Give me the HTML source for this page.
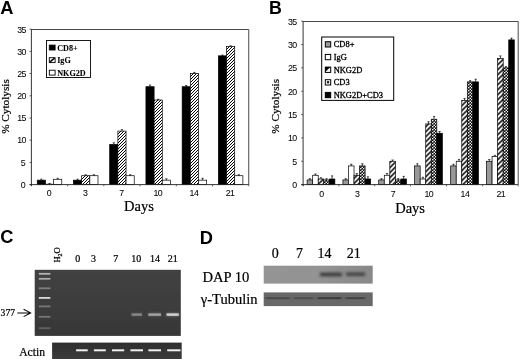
<!DOCTYPE html>
<html><head><meta charset="utf-8"><title>Figure</title>
<style>html,body{margin:0;padding:0;background:#fff}svg{display:block}text{fill:#000}.sf text{stroke:#000;stroke-width:.25px}</style>
</head><body>
<svg width="520" height="359" viewBox="0 0 520 359">
<defs>
<pattern id="hA" width="3" height="3" patternUnits="userSpaceOnUse"><rect width="3" height="3" fill="#fff"/><path d="M1 -1L-1 1M4 -1L-1 4M4 2L2 4" stroke="#000" stroke-width="1.0"/></pattern>
<pattern id="hN" width="5" height="5" patternUnits="userSpaceOnUse" patternTransform="translate(0.5 2)"><rect width="5" height="5" fill="#fff"/><path d="M-1.25 1.25L1.25 -1.25M0 5L5 0M3.75 6.25L6.25 3.75" stroke="#000" stroke-width="1.55"/></pattern>
<pattern id="hC" width="3" height="3" patternUnits="userSpaceOnUse"><rect width="3" height="3" fill="#111"/><circle cx="0.75" cy="0.75" r="0.8" fill="#fff"/><circle cx="2.25" cy="2.25" r="0.8" fill="#fff"/></pattern>
<filter id="b1" x="-5%" y="-5%" width="110%" height="110%"><feGaussianBlur stdDeviation="0.45"/></filter>
<filter id="b2" x="-20%" y="-50%" width="140%" height="200%"><feGaussianBlur stdDeviation="0.7"/></filter>
<filter id="b3" x="-20%" y="-80%" width="140%" height="260%"><feGaussianBlur stdDeviation="1.6 1.1"/></filter>
<linearGradient id="gG" x1="0" y1="0" x2="0" y2="1"><stop offset="0" stop-color="#424242"/><stop offset="1" stop-color="#373737"/></linearGradient>
<linearGradient id="gA" x1="0" y1="0" x2="0" y2="1"><stop offset="0" stop-color="#2e2e2e"/><stop offset="1" stop-color="#3c3c3c"/></linearGradient>
<linearGradient id="gD" x1="0" y1="0" x2="1" y2="0"><stop offset="0" stop-color="#949494"/><stop offset="0.5" stop-color="#939393"/><stop offset="1" stop-color="#888888"/></linearGradient>
<filter id="b4" x="-20%" y="-100%" width="140%" height="300%"><feGaussianBlur stdDeviation="1.3 0.7"/></filter>
</defs>
<rect width="520" height="359" fill="#fff"/>
<g filter="url(#b1)">
<text x="0.3" y="13.9" font-family="Liberation Sans, sans-serif" font-size="18.3" font-weight="bold">A</text>
<text x="269.1" y="13.7" font-family="Liberation Sans, sans-serif" font-size="17.8" font-weight="bold">B</text>
<text x="0.3" y="243.4" font-family="Liberation Sans, sans-serif" font-size="18.3" font-weight="bold">C</text>
<text x="199.8" y="243.7" font-family="Liberation Sans, sans-serif" font-size="18.3" font-weight="bold">D</text>
<path d="M31.4 29.5H248.75V184.6" fill="none" stroke="#4a4a4a" stroke-width="1"/>
<rect x="37.26" y="180.16" width="8.17" height="4.44" fill="#000" stroke="#000" stroke-width="0.7"/>
<path d="M41.34 180.16V179.19M40.24 179.19h2.2" stroke="#000" stroke-width="0.7" fill="none"/>
<rect x="45.43" y="184.16" width="8.17" height="0.44" fill="url(#hA)" stroke="#000" stroke-width="0.7"/>
<path d="M49.51 184.16V183.41M48.41 183.41h2.2" stroke="#000" stroke-width="0.7" fill="none"/>
<rect x="53.60" y="179.27" width="8.17" height="5.33" fill="#fff" stroke="#000" stroke-width="0.7"/>
<path d="M57.68 179.27V178.31M56.58 178.31h2.2" stroke="#000" stroke-width="0.7" fill="none"/>
<rect x="73.48" y="180.16" width="8.17" height="4.44" fill="#000" stroke="#000" stroke-width="0.7"/>
<path d="M77.56 180.16V179.19M76.47 179.19h2.2" stroke="#000" stroke-width="0.7" fill="none"/>
<rect x="81.65" y="175.72" width="8.17" height="8.88" fill="url(#hA)" stroke="#000" stroke-width="0.7"/>
<path d="M85.73 175.72V174.75M84.64 174.75h2.2" stroke="#000" stroke-width="0.7" fill="none"/>
<rect x="89.82" y="175.72" width="8.17" height="8.88" fill="#fff" stroke="#000" stroke-width="0.7"/>
<path d="M93.91 175.72V174.75M92.81 174.75h2.2" stroke="#000" stroke-width="0.7" fill="none"/>
<rect x="109.70" y="144.42" width="8.17" height="40.18" fill="#000" stroke="#000" stroke-width="0.7"/>
<path d="M113.79 144.42V142.79M112.69 142.79h2.2" stroke="#000" stroke-width="0.7" fill="none"/>
<rect x="117.88" y="131.10" width="8.17" height="53.50" fill="url(#hA)" stroke="#000" stroke-width="0.7"/>
<path d="M121.96 131.10V129.69M120.86 129.69h2.2" stroke="#000" stroke-width="0.7" fill="none"/>
<rect x="126.05" y="175.72" width="8.17" height="8.88" fill="#fff" stroke="#000" stroke-width="0.7"/>
<path d="M130.13 175.72V174.75M129.03 174.75h2.2" stroke="#000" stroke-width="0.7" fill="none"/>
<rect x="145.93" y="86.70" width="8.17" height="97.90" fill="#000" stroke="#000" stroke-width="0.7"/>
<path d="M150.02 86.70V85.07M148.92 85.07h2.2" stroke="#000" stroke-width="0.7" fill="none"/>
<rect x="154.10" y="100.02" width="8.17" height="84.58" fill="url(#hA)" stroke="#000" stroke-width="0.7"/>
<path d="M158.19 100.02V99.27M157.09 99.27h2.2" stroke="#000" stroke-width="0.7" fill="none"/>
<rect x="162.27" y="180.16" width="8.17" height="4.44" fill="#fff" stroke="#000" stroke-width="0.7"/>
<path d="M166.36 180.16V178.75M165.26 178.75h2.2" stroke="#000" stroke-width="0.7" fill="none"/>
<rect x="182.15" y="86.70" width="8.17" height="97.90" fill="#000" stroke="#000" stroke-width="0.7"/>
<path d="M186.23 86.70V85.51M185.13 85.51h2.2" stroke="#000" stroke-width="0.7" fill="none"/>
<rect x="190.31" y="73.38" width="8.17" height="111.22" fill="url(#hA)" stroke="#000" stroke-width="0.7"/>
<path d="M194.40 73.38V72.41M193.30 72.41h2.2" stroke="#000" stroke-width="0.7" fill="none"/>
<rect x="198.49" y="180.16" width="8.17" height="4.44" fill="#fff" stroke="#000" stroke-width="0.7"/>
<path d="M202.57 180.16V178.31M201.47 178.31h2.2" stroke="#000" stroke-width="0.7" fill="none"/>
<rect x="218.37" y="55.84" width="8.17" height="128.76" fill="#000" stroke="#000" stroke-width="0.7"/>
<path d="M222.46 55.84V55.10M221.36 55.10h2.2" stroke="#000" stroke-width="0.7" fill="none"/>
<rect x="226.54" y="46.52" width="8.17" height="138.08" fill="url(#hA)" stroke="#000" stroke-width="0.7"/>
<path d="M230.62 46.52V45.77M229.53 45.77h2.2" stroke="#000" stroke-width="0.7" fill="none"/>
<rect x="234.71" y="175.72" width="8.17" height="8.88" fill="#fff" stroke="#000" stroke-width="0.7"/>
<path d="M238.80 175.72V174.75M237.70 174.75h2.2" stroke="#000" stroke-width="0.7" fill="none"/>
<path d="M31.4 29.2V185.79999999999998M29.599999999999998 184.6H248.75" fill="none" stroke="#222" stroke-width="0.9"/>
<path d="M29.5 184.60H31.4" stroke="#222" stroke-width="0.7"/>
<text x="25.1" y="187.60" text-anchor="end" font-family="Liberation Sans, sans-serif" stroke="#000" stroke-width="0.05" font-size="8.8" letter-spacing="-0.6">0</text>
<path d="M29.5 162.40H31.4" stroke="#222" stroke-width="0.7"/>
<text x="25.1" y="165.54" text-anchor="end" font-family="Liberation Sans, sans-serif" stroke="#000" stroke-width="0.05" font-size="8.8" letter-spacing="-0.6">5</text>
<path d="M29.5 140.20H31.4" stroke="#222" stroke-width="0.7"/>
<text x="25.8" y="143.49" text-anchor="end" font-family="Liberation Sans, sans-serif" stroke="#000" stroke-width="0.05" font-size="8.8" letter-spacing="-0.6">10</text>
<path d="M29.5 118.00H31.4" stroke="#222" stroke-width="0.7"/>
<text x="25.8" y="121.43" text-anchor="end" font-family="Liberation Sans, sans-serif" stroke="#000" stroke-width="0.05" font-size="8.8" letter-spacing="-0.6">15</text>
<path d="M29.5 95.80H31.4" stroke="#222" stroke-width="0.7"/>
<text x="25.8" y="99.37" text-anchor="end" font-family="Liberation Sans, sans-serif" stroke="#000" stroke-width="0.05" font-size="8.8" letter-spacing="-0.6">20</text>
<path d="M29.5 73.60H31.4" stroke="#222" stroke-width="0.7"/>
<text x="25.8" y="77.31" text-anchor="end" font-family="Liberation Sans, sans-serif" stroke="#000" stroke-width="0.05" font-size="8.8" letter-spacing="-0.6">25</text>
<path d="M29.5 51.40H31.4" stroke="#222" stroke-width="0.7"/>
<text x="25.8" y="55.26" text-anchor="end" font-family="Liberation Sans, sans-serif" stroke="#000" stroke-width="0.05" font-size="8.8" letter-spacing="-0.6">30</text>
<path d="M29.5 29.20H31.4" stroke="#222" stroke-width="0.7"/>
<text x="25.8" y="33.20" text-anchor="end" font-family="Liberation Sans, sans-serif" stroke="#000" stroke-width="0.05" font-size="8.8" letter-spacing="-0.6">35</text>
<path d="M31.4 184.6v1.7" stroke="#222" stroke-width="0.7"/>
<path d="M67.62 184.6v1.7" stroke="#222" stroke-width="0.7"/>
<path d="M103.85 184.6v1.7" stroke="#222" stroke-width="0.7"/>
<path d="M140.07 184.6v1.7" stroke="#222" stroke-width="0.7"/>
<path d="M176.3 184.6v1.7" stroke="#222" stroke-width="0.7"/>
<path d="M212.5 184.6v1.7" stroke="#222" stroke-width="0.7"/>
<path d="M248.75 184.6v1.7" stroke="#222" stroke-width="0.7"/>
<text x="49.0" y="195.9" text-anchor="middle" font-family="Liberation Sans, sans-serif" stroke="#000" stroke-width="0.05" font-size="8.8" letter-spacing="-0.6">0</text>
<text x="85.2" y="195.9" text-anchor="middle" font-family="Liberation Sans, sans-serif" stroke="#000" stroke-width="0.05" font-size="8.8" letter-spacing="-0.6">3</text>
<text x="121.5" y="195.9" text-anchor="middle" font-family="Liberation Sans, sans-serif" stroke="#000" stroke-width="0.05" font-size="8.8" letter-spacing="-0.6">7</text>
<text x="157.7" y="195.9" text-anchor="middle" font-family="Liberation Sans, sans-serif" stroke="#000" stroke-width="0.05" font-size="8.8" letter-spacing="-0.6">10</text>
<text x="193.9" y="195.9" text-anchor="middle" font-family="Liberation Sans, sans-serif" stroke="#000" stroke-width="0.05" font-size="8.8" letter-spacing="-0.6">14</text>
<text x="230.1" y="195.9" text-anchor="middle" font-family="Liberation Sans, sans-serif" stroke="#000" stroke-width="0.05" font-size="8.8" letter-spacing="-0.6">21</text>
<path d="M303.1 21.5H518.2V184.6" fill="none" stroke="#4a4a4a" stroke-width="1"/>
<rect x="307.12" y="179.93" width="5.55" height="4.67" fill="#999" stroke="#000" stroke-width="0.7"/>
<path d="M309.90 179.93V178.70M308.80 178.70h2.2" stroke="#000" stroke-width="0.7" fill="none"/>
<rect x="312.68" y="175.26" width="5.55" height="9.34" fill="#fff" stroke="#000" stroke-width="0.7"/>
<path d="M315.45 175.26V174.03M314.35 174.03h2.2" stroke="#000" stroke-width="0.7" fill="none"/>
<rect x="318.23" y="179.00" width="5.55" height="5.60" fill="url(#hN)" stroke="#000" stroke-width="0.7"/>
<path d="M321.00 179.00V177.76M319.90 177.76h2.2" stroke="#000" stroke-width="0.7" fill="none"/>
<rect x="323.77" y="179.93" width="5.55" height="4.67" fill="url(#hC)" stroke="#000" stroke-width="0.7"/>
<path d="M326.55 179.93V178.70M325.45 178.70h2.2" stroke="#000" stroke-width="0.7" fill="none"/>
<rect x="329.32" y="179.00" width="5.55" height="5.60" fill="#000" stroke="#000" stroke-width="0.7"/>
<path d="M332.10 179.00V175.90M331.00 175.90h2.2" stroke="#000" stroke-width="0.7" fill="none"/>
<rect x="342.92" y="179.93" width="5.55" height="4.67" fill="#999" stroke="#000" stroke-width="0.7"/>
<path d="M345.70 179.93V178.70M344.60 178.70h2.2" stroke="#000" stroke-width="0.7" fill="none"/>
<rect x="348.47" y="165.93" width="5.55" height="18.67" fill="#fff" stroke="#000" stroke-width="0.7"/>
<path d="M351.25 165.93V164.23M350.15 164.23h2.2" stroke="#000" stroke-width="0.7" fill="none"/>
<rect x="354.02" y="175.26" width="5.55" height="9.34" fill="url(#hN)" stroke="#000" stroke-width="0.7"/>
<path d="M356.80 175.26V173.56M355.70 173.56h2.2" stroke="#000" stroke-width="0.7" fill="none"/>
<rect x="359.57" y="165.93" width="5.55" height="18.67" fill="url(#hC)" stroke="#000" stroke-width="0.7"/>
<path d="M362.35 165.93V163.76M361.25 163.76h2.2" stroke="#000" stroke-width="0.7" fill="none"/>
<rect x="365.12" y="179.00" width="5.55" height="5.60" fill="#000" stroke="#000" stroke-width="0.7"/>
<path d="M367.90 179.00V176.83M366.80 176.83h2.2" stroke="#000" stroke-width="0.7" fill="none"/>
<rect x="378.73" y="179.93" width="5.55" height="4.67" fill="#999" stroke="#000" stroke-width="0.7"/>
<path d="M381.50 179.93V178.70M380.40 178.70h2.2" stroke="#000" stroke-width="0.7" fill="none"/>
<rect x="384.28" y="175.26" width="5.55" height="9.34" fill="#fff" stroke="#000" stroke-width="0.7"/>
<path d="M387.05 175.26V173.56M385.95 173.56h2.2" stroke="#000" stroke-width="0.7" fill="none"/>
<rect x="389.83" y="161.26" width="5.55" height="23.34" fill="url(#hN)" stroke="#000" stroke-width="0.7"/>
<path d="M392.60 161.26V160.02M391.50 160.02h2.2" stroke="#000" stroke-width="0.7" fill="none"/>
<rect x="395.38" y="179.93" width="5.55" height="4.67" fill="url(#hC)" stroke="#000" stroke-width="0.7"/>
<path d="M398.15 179.93V178.70M397.05 178.70h2.2" stroke="#000" stroke-width="0.7" fill="none"/>
<rect x="400.93" y="179.00" width="5.55" height="5.60" fill="#000" stroke="#000" stroke-width="0.7"/>
<path d="M403.70 179.00V176.36M402.60 176.36h2.2" stroke="#000" stroke-width="0.7" fill="none"/>
<rect x="414.62" y="165.93" width="5.55" height="18.67" fill="#999" stroke="#000" stroke-width="0.7"/>
<path d="M417.40 165.93V163.76M416.30 163.76h2.2" stroke="#000" stroke-width="0.7" fill="none"/>
<rect x="420.18" y="179.00" width="5.55" height="5.60" fill="#fff" stroke="#000" stroke-width="0.7"/>
<path d="M422.95 179.00V177.30M421.85 177.30h2.2" stroke="#000" stroke-width="0.7" fill="none"/>
<rect x="425.73" y="123.91" width="5.55" height="60.69" fill="url(#hN)" stroke="#000" stroke-width="0.7"/>
<path d="M428.50 123.91V121.74M427.40 121.74h2.2" stroke="#000" stroke-width="0.7" fill="none"/>
<rect x="431.27" y="119.24" width="5.55" height="65.36" fill="url(#hC)" stroke="#000" stroke-width="0.7"/>
<path d="M434.05 119.24V116.61M432.95 116.61h2.2" stroke="#000" stroke-width="0.7" fill="none"/>
<rect x="436.82" y="133.25" width="5.55" height="51.35" fill="#000" stroke="#000" stroke-width="0.7"/>
<path d="M439.60 133.25V131.55M438.50 131.55h2.2" stroke="#000" stroke-width="0.7" fill="none"/>
<rect x="450.68" y="165.93" width="5.55" height="18.67" fill="#999" stroke="#000" stroke-width="0.7"/>
<path d="M453.45 165.93V164.23M452.35 164.23h2.2" stroke="#000" stroke-width="0.7" fill="none"/>
<rect x="456.23" y="161.26" width="5.55" height="23.34" fill="#fff" stroke="#000" stroke-width="0.7"/>
<path d="M459.00 161.26V159.56M457.90 159.56h2.2" stroke="#000" stroke-width="0.7" fill="none"/>
<rect x="461.78" y="100.57" width="5.55" height="84.03" fill="url(#hN)" stroke="#000" stroke-width="0.7"/>
<path d="M464.55 100.57V98.40M463.45 98.40h2.2" stroke="#000" stroke-width="0.7" fill="none"/>
<rect x="467.32" y="81.89" width="5.55" height="102.71" fill="url(#hC)" stroke="#000" stroke-width="0.7"/>
<path d="M470.10 81.89V80.66M469.00 80.66h2.2" stroke="#000" stroke-width="0.7" fill="none"/>
<rect x="472.88" y="81.89" width="5.55" height="102.71" fill="#000" stroke="#000" stroke-width="0.7"/>
<path d="M475.65 81.89V79.26M474.55 79.26h2.2" stroke="#000" stroke-width="0.7" fill="none"/>
<rect x="486.53" y="161.26" width="5.55" height="23.34" fill="#999" stroke="#000" stroke-width="0.7"/>
<path d="M489.30 161.26V159.56M488.20 159.56h2.2" stroke="#000" stroke-width="0.7" fill="none"/>
<rect x="492.08" y="156.59" width="5.55" height="28.01" fill="#fff" stroke="#000" stroke-width="0.7"/>
<path d="M494.85 156.59V155.35M493.75 155.35h2.2" stroke="#000" stroke-width="0.7" fill="none"/>
<rect x="497.63" y="58.55" width="5.55" height="126.05" fill="url(#hN)" stroke="#000" stroke-width="0.7"/>
<path d="M500.40 58.55V55.91M499.30 55.91h2.2" stroke="#000" stroke-width="0.7" fill="none"/>
<rect x="503.18" y="67.89" width="5.55" height="116.71" fill="url(#hC)" stroke="#000" stroke-width="0.7"/>
<path d="M505.95 67.89V66.65M504.85 66.65h2.2" stroke="#000" stroke-width="0.7" fill="none"/>
<rect x="508.73" y="39.87" width="5.55" height="144.73" fill="#000" stroke="#000" stroke-width="0.7"/>
<path d="M511.50 39.87V38.17M510.40 38.17h2.2" stroke="#000" stroke-width="0.7" fill="none"/>
<path d="M303.1 21.2V185.79999999999998M301.3 184.6H518.2" fill="none" stroke="#222" stroke-width="0.9"/>
<path d="M301.20000000000005 184.60H303.1" stroke="#222" stroke-width="0.7"/>
<text x="296.6" y="187.80" text-anchor="end" font-family="Liberation Sans, sans-serif" stroke="#000" stroke-width="0.05" font-size="8.8" letter-spacing="-0.6">0</text>
<path d="M301.20000000000005 161.26H303.1" stroke="#222" stroke-width="0.7"/>
<text x="296.6" y="164.50" text-anchor="end" font-family="Liberation Sans, sans-serif" stroke="#000" stroke-width="0.05" font-size="8.8" letter-spacing="-0.6">5</text>
<path d="M301.20000000000005 137.91H303.1" stroke="#222" stroke-width="0.7"/>
<text x="296.6" y="141.20" text-anchor="end" font-family="Liberation Sans, sans-serif" stroke="#000" stroke-width="0.05" font-size="8.8" letter-spacing="-0.6">10</text>
<path d="M301.20000000000005 114.57H303.1" stroke="#222" stroke-width="0.7"/>
<text x="296.6" y="117.90" text-anchor="end" font-family="Liberation Sans, sans-serif" stroke="#000" stroke-width="0.05" font-size="8.8" letter-spacing="-0.6">15</text>
<path d="M301.20000000000005 91.23H303.1" stroke="#222" stroke-width="0.7"/>
<text x="296.6" y="94.60" text-anchor="end" font-family="Liberation Sans, sans-serif" stroke="#000" stroke-width="0.05" font-size="8.8" letter-spacing="-0.6">20</text>
<path d="M301.20000000000005 67.89H303.1" stroke="#222" stroke-width="0.7"/>
<text x="296.6" y="71.30" text-anchor="end" font-family="Liberation Sans, sans-serif" stroke="#000" stroke-width="0.05" font-size="8.8" letter-spacing="-0.6">25</text>
<path d="M301.20000000000005 44.54H303.1" stroke="#222" stroke-width="0.7"/>
<text x="296.6" y="48.00" text-anchor="end" font-family="Liberation Sans, sans-serif" stroke="#000" stroke-width="0.05" font-size="8.8" letter-spacing="-0.6">30</text>
<path d="M301.20000000000005 21.20H303.1" stroke="#222" stroke-width="0.7"/>
<text x="296.6" y="24.70" text-anchor="end" font-family="Liberation Sans, sans-serif" stroke="#000" stroke-width="0.05" font-size="8.8" letter-spacing="-0.6">35</text>
<path d="M303.1 184.6v1.7" stroke="#222" stroke-width="0.7"/>
<path d="M338.9 184.6v1.7" stroke="#222" stroke-width="0.7"/>
<path d="M374.7 184.6v1.7" stroke="#222" stroke-width="0.7"/>
<path d="M410.5 184.6v1.7" stroke="#222" stroke-width="0.7"/>
<path d="M446.5 184.6v1.7" stroke="#222" stroke-width="0.7"/>
<path d="M482.6 184.6v1.7" stroke="#222" stroke-width="0.7"/>
<path d="M518.2 184.6v1.7" stroke="#222" stroke-width="0.7"/>
<text x="321.3" y="196.9" text-anchor="middle" font-family="Liberation Sans, sans-serif" stroke="#000" stroke-width="0.05" font-size="8.8" letter-spacing="-0.6">0</text>
<text x="357.1" y="196.9" text-anchor="middle" font-family="Liberation Sans, sans-serif" stroke="#000" stroke-width="0.05" font-size="8.8" letter-spacing="-0.6">3</text>
<text x="392.9" y="196.9" text-anchor="middle" font-family="Liberation Sans, sans-serif" stroke="#000" stroke-width="0.05" font-size="8.8" letter-spacing="-0.6">7</text>
<text x="428.8" y="196.9" text-anchor="middle" font-family="Liberation Sans, sans-serif" stroke="#000" stroke-width="0.05" font-size="8.8" letter-spacing="-0.6">10</text>
<text x="464.9" y="196.9" text-anchor="middle" font-family="Liberation Sans, sans-serif" stroke="#000" stroke-width="0.05" font-size="8.8" letter-spacing="-0.6">14</text>
<text x="500.7" y="196.9" text-anchor="middle" font-family="Liberation Sans, sans-serif" stroke="#000" stroke-width="0.05" font-size="8.8" letter-spacing="-0.6">21</text>
<text transform="translate(9.2,106.5) rotate(-90)" text-anchor="middle" font-family="Liberation Serif, serif" stroke="#000" stroke-width="0.22" font-size="11.25">% Cytolysis</text>
<text transform="translate(278.6,106.3) rotate(-90)" text-anchor="middle" font-family="Liberation Serif, serif" stroke="#000" stroke-width="0.22" font-size="11.25">% Cytolysis</text>
<text x="138.9" y="211" text-anchor="middle" font-family="Liberation Serif, serif" stroke="#000" stroke-width="0.22" font-size="14.5">Days</text>
<text x="410.1" y="212.8" text-anchor="middle" font-family="Liberation Serif, serif" stroke="#000" stroke-width="0.22" font-size="14.5">Days</text>
<rect x="46.45" y="40.5" width="44" height="37" fill="#fff" stroke="#000" stroke-width="0.9"/>
<rect x="49.3" y="45.1" width="5.8" height="4.9" fill="#000" stroke="#000" stroke-width="0.9"/>
<text x="57.2" y="50.8" font-family="Liberation Serif, serif" font-weight="bold" stroke="#000" stroke-width="0.08" font-size="8.15">CD8+</text>
<rect x="49.3" y="57.7" width="5.8" height="4.9" fill="#fff" stroke="#000" stroke-width="0.9"/>
<path d="M50 61.9L54.6 58.1" stroke="#000" stroke-width="1.4"/>
<text x="57.2" y="63.1" font-family="Liberation Serif, serif" font-weight="bold" stroke="#000" stroke-width="0.08" font-size="8.15">IgG</text>
<rect x="49.3" y="70.2" width="5.8" height="4.9" fill="#fff" stroke="#000" stroke-width="0.9"/>
<text x="57.2" y="75.5" font-family="Liberation Serif, serif" font-weight="bold" stroke="#000" stroke-width="0.08" font-size="8.15">NKG2D</text>
<rect x="321.7" y="37" width="72" height="63.4" fill="#fff" stroke="#000" stroke-width="1"/>
<rect x="325.3" y="41.7" width="5.4" height="5.3" fill="#999" stroke="#000" stroke-width="1"/>
<text x="333.7" y="47.4" font-family="Liberation Serif, serif" stroke="#000" stroke-width="0.32" font-size="8.45">CD8+</text>
<rect x="325.3" y="54.4" width="5.4" height="5.3" fill="#fff" stroke="#000" stroke-width="1"/>
<text x="333.7" y="60.0" font-family="Liberation Serif, serif" stroke="#000" stroke-width="0.32" font-size="8.45">IgG</text>
<rect x="325.3" y="67.1" width="5.4" height="5.3" fill="#fff" stroke="#000" stroke-width="1"/>
<path d="M325.3 67.0h5l-5 5z" fill="#000"/>
<text x="333.7" y="72.6" font-family="Liberation Serif, serif" stroke="#000" stroke-width="0.32" font-size="8.45">NKG2D</text>
<rect x="325.3" y="79.7" width="5.4" height="5.3" fill="#fff" stroke="#000" stroke-width="1"/>
<rect x="326.9" y="81.1" width="2.3" height="2.3" fill="#222"/>
<text x="333.7" y="85.2" font-family="Liberation Serif, serif" stroke="#000" stroke-width="0.32" font-size="8.45">CD3</text>
<rect x="325.3" y="92.4" width="5.4" height="5.3" fill="#000" stroke="#000" stroke-width="1"/>
<text x="333.7" y="97.8" font-family="Liberation Serif, serif" stroke="#000" stroke-width="0.32" font-size="8.45">NKG2D+CD3</text>
<text transform="translate(60.1,262.6) rotate(-90)" font-family="Liberation Serif, serif" stroke="#000" stroke-width="0.22" font-size="8.5">H<tspan font-size="6" dy="2">2</tspan><tspan dy="-2">O</tspan></text>
<text x="77.7" y="261.7" text-anchor="middle" font-family="Liberation Serif, serif" stroke="#000" stroke-width="0.22" font-size="10">0</text>
<text x="93.4" y="261.7" text-anchor="middle" font-family="Liberation Serif, serif" stroke="#000" stroke-width="0.22" font-size="10">3</text>
<text x="115.8" y="261.7" text-anchor="middle" font-family="Liberation Serif, serif" stroke="#000" stroke-width="0.22" font-size="10">7</text>
<text x="136.2" y="261.7" text-anchor="middle" font-family="Liberation Serif, serif" stroke="#000" stroke-width="0.22" font-size="10">10</text>
<text x="155" y="261.7" text-anchor="middle" font-family="Liberation Serif, serif" stroke="#000" stroke-width="0.22" font-size="10">14</text>
<text x="172.8" y="261.7" text-anchor="middle" font-family="Liberation Serif, serif" stroke="#000" stroke-width="0.22" font-size="10">21</text>
<text x="0.6" y="316.1" font-family="Liberation Serif, serif" stroke="#000" stroke-width="0.22" font-size="9.6">377</text>
<path d="M17.3 312.9H30.2M23.6 309.2L30.6 312.9L23.6 316.6" fill="none" stroke="#000" stroke-width="1.05"/>
<text x="19.2" y="355.7" font-family="Liberation Serif, serif" stroke="#000" stroke-width="0.22" font-size="11.6">Actin</text>
<rect x="34.7" y="269.8" width="146.1" height="66.1" fill="url(#gG)"/>
<rect x="38.8" y="272.9" width="11.6" height="1.8" fill="#fff" opacity="0.6" filter="url(#b2)"/>
<rect x="38.8" y="277.9" width="11.6" height="1.8" fill="#fff" opacity="0.55" filter="url(#b2)"/>
<rect x="38.8" y="287.4" width="11.6" height="1.8" fill="#fff" opacity="0.33" filter="url(#b2)"/>
<rect x="38.8" y="297.0" width="11.6" height="1.8" fill="#fff" opacity="0.8" filter="url(#b2)"/>
<rect x="38.8" y="305.5" width="11.6" height="1.8" fill="#fff" opacity="0.3" filter="url(#b2)"/>
<rect x="38.8" y="315.9" width="11.6" height="1.8" fill="#fff" opacity="0.3" filter="url(#b2)"/>
<rect x="38.8" y="327.3" width="11.6" height="1.8" fill="#fff" opacity="0.2" filter="url(#b2)"/>
<rect x="131.5" y="312.6" width="10.5" height="4" fill="#fff" opacity="0.10" filter="url(#b3)"/>
<rect x="131.5" y="313.4" width="10.5" height="2.4" fill="#fff" opacity="0.33" filter="url(#b2)"/>
<rect x="148.3" y="312.6" width="12.7" height="4" fill="#fff" opacity="0.14" filter="url(#b3)"/>
<rect x="148.3" y="313.4" width="12.7" height="2.4" fill="#fff" opacity="0.47" filter="url(#b2)"/>
<rect x="166.5" y="312.6" width="12.3" height="4" fill="#fff" opacity="0.22" filter="url(#b3)"/>
<rect x="166.5" y="313.4" width="12.3" height="2.4" fill="#fff" opacity="0.72" filter="url(#b2)"/>
<rect x="52.1" y="342.6" width="129.6" height="16.4" fill="url(#gA)"/>
<rect x="76.1" y="349.3" width="11.6" height="2.0" fill="#fff" opacity=".92" filter="url(#b2)"/>
<rect x="93.9" y="349.3" width="11.9" height="2.0" fill="#fff" opacity=".92" filter="url(#b2)"/>
<rect x="112" y="349.3" width="12.2" height="2.0" fill="#fff" opacity=".92" filter="url(#b2)"/>
<rect x="130.4" y="349.3" width="12.6" height="2.0" fill="#fff" opacity=".92" filter="url(#b2)"/>
<rect x="148.4" y="349.3" width="12.6" height="2.0" fill="#fff" opacity=".92" filter="url(#b2)"/>
<rect x="167.2" y="349.3" width="13.3" height="2.0" fill="#fff" opacity=".92" filter="url(#b2)"/>
<text x="275.3" y="258.3" text-anchor="middle" font-family="Liberation Serif, serif" stroke="#000" stroke-width="0.22" font-size="14">0</text>
<text x="299.6" y="258.3" text-anchor="middle" font-family="Liberation Serif, serif" stroke="#000" stroke-width="0.22" font-size="14">7</text>
<text x="324.4" y="258.3" text-anchor="middle" font-family="Liberation Serif, serif" stroke="#000" stroke-width="0.22" font-size="14">14</text>
<text x="353.7" y="258.3" text-anchor="middle" font-family="Liberation Serif, serif" stroke="#000" stroke-width="0.22" font-size="14">21</text>
<text x="202.4" y="281.8" font-family="Liberation Serif, serif" stroke="#000" stroke-width="0.22" font-size="14.6">DAP 10</text>
<text x="200.8" y="303.6" font-family="Liberation Serif, serif" stroke="#000" stroke-width="0.22" font-size="14.5">γ-Tubulin</text>
<rect x="263.7" y="265.7" width="109" height="17.9" fill="url(#gD)"/>
<rect x="320" y="272.4" width="22" height="4.2" fill="#2a2a2a" opacity="0.72" filter="url(#b3)"/>
<rect x="346" y="272.09999999999997" width="19" height="4.2" fill="#2a2a2a" opacity="0.64" filter="url(#b3)"/>
<rect x="263.7" y="292.4" width="109" height="13.7" fill="#686868"/>
<rect x="265.5" y="297.2" width="24.5" height="1.9" fill="#1a1a1a" opacity="0.38" filter="url(#b4)"/>
<rect x="294" y="297.2" width="19.5" height="1.9" fill="#1a1a1a" opacity="0.34" filter="url(#b4)"/>
<rect x="317.5" y="297.2" width="24.0" height="1.9" fill="#1a1a1a" opacity="0.6" filter="url(#b4)"/>
<rect x="345.5" y="297.2" width="19.5" height="1.9" fill="#1a1a1a" opacity="0.5" filter="url(#b4)"/>
</g>
</svg>
</body></html>
